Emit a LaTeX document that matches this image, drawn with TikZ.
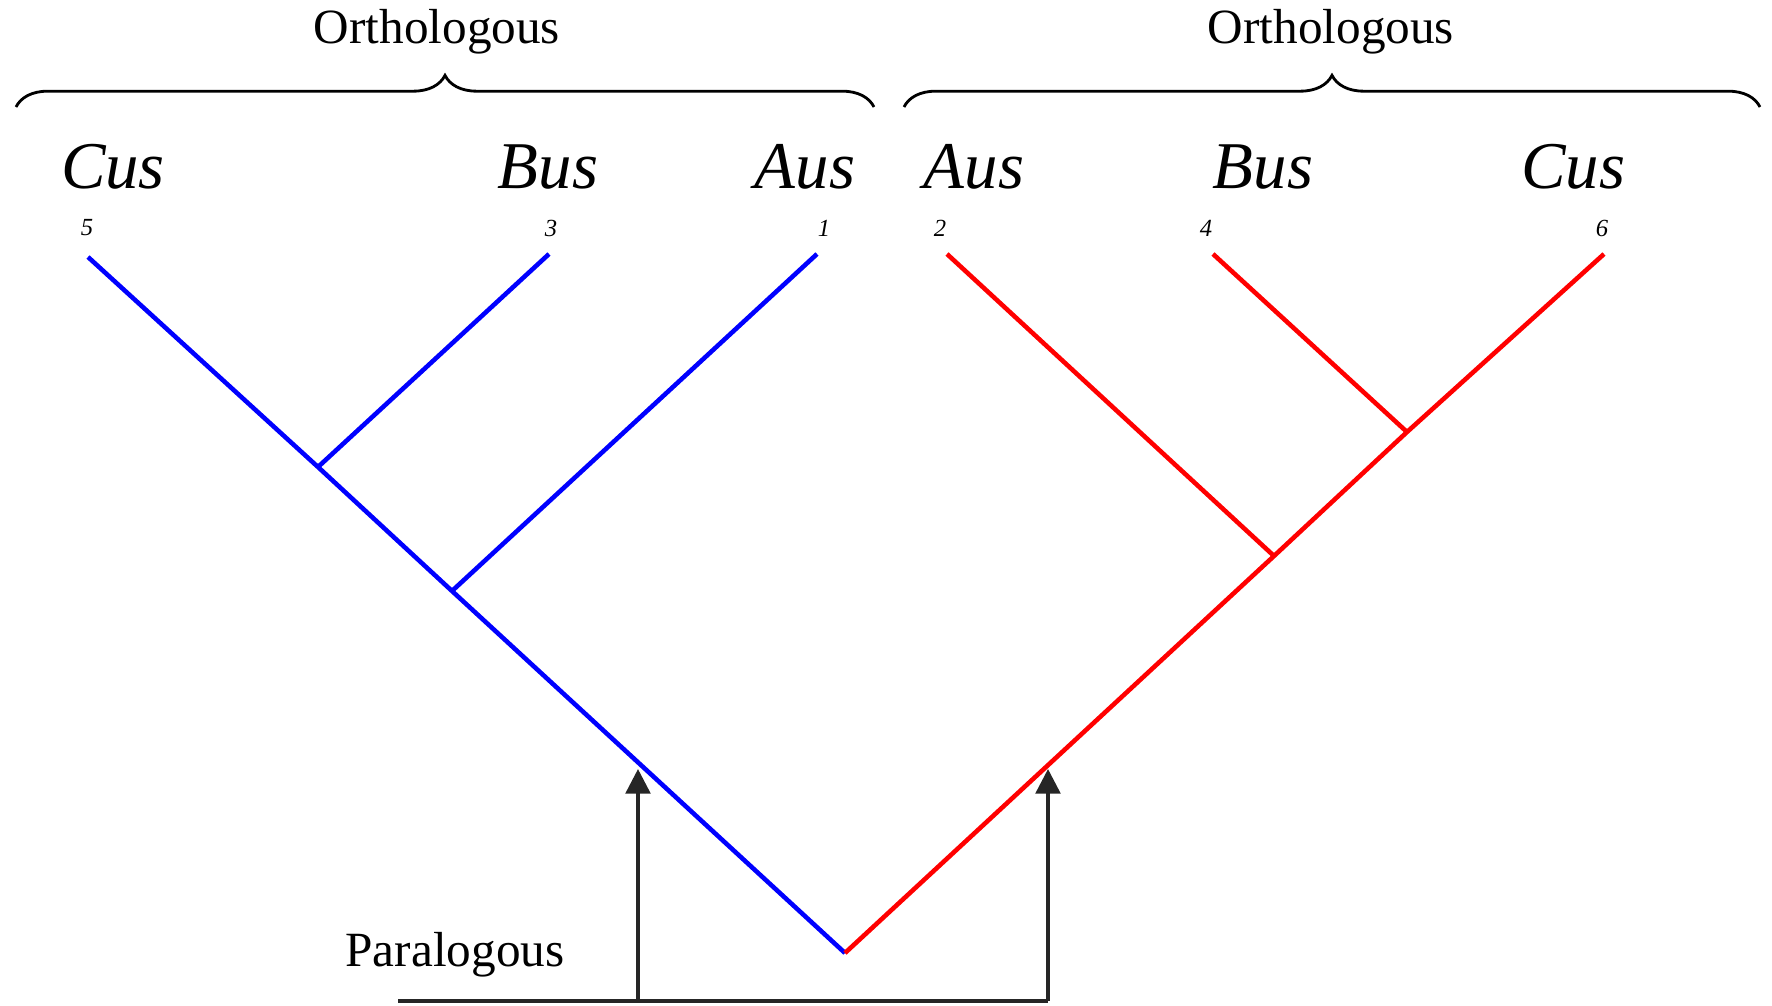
\documentclass[tikz,border=0pt]{standalone}
\usepackage{fontspec}
\setmainfont{Liberation Serif}
\usepackage{tikz}
\usetikzlibrary{arrows.meta,decorations.pathreplacing}

\tikzset{
    species/.style={font=\fontsize{19}{21}\selectfont\itshape, inner sep=0pt},
    leafnum/.style={font=\fontsize{7}{8}\selectfont\itshape, inner sep=0pt},
    group/.style={font=\fontsize{14}{16}\selectfont, inner sep=0pt},
    bluebranch/.style={draw=blue, line width=1.3pt},
    redbranch/.style={draw=red, line width=1.3pt},
    paraline/.style={draw=black!85, line width=1pt},
    paraarrow/.style={paraline, -{Triangle[width=7pt,length=7pt]}},
    bracket/.style={draw=black, line width=0.8pt,
        decorate, decoration={brace, amplitude=9pt}}
}

\begin{document}
\begin{tikzpicture}[x=0.01cm, y=-0.01cm]

\useasboundingbox (0,0) rectangle (1772,1006);

% braces and group labels
\coordinate (bl1) at (16,107);
\coordinate (bl2) at (874,107);
\coordinate (br1) at (904,107);
\coordinate (br2) at (1760,107);
\draw[bracket] (bl1) -- (bl2);
\draw[bracket] (br1) -- (br2);
\node[group] (orthoL) at (437,32) {Orthologous};
\node[group] (orthoR) at (1331,32) {Orthologous};

% species names
\node[species] (cusL) at (113,167) {Cus};
\node[species] (busL) at (548,167) {Bus};
\node[species] (ausL) at (805,167) {Aus};
\node[species] (ausR) at (974,167) {Aus};
\node[species] (busR) at (1263,167) {Bus};
\node[species] (cusR) at (1573,167) {Cus};

% gene numbers
\node[leafnum] (n5) at (87,228) {5};
\node[leafnum] (n3) at (551,228) {3};
\node[leafnum] (n1) at (824,228) {1};
\node[leafnum] (n2) at (940,228) {2};
\node[leafnum] (n4) at (1206,228) {4};
\node[leafnum] (n6) at (1602,228) {6};

% tree points
\coordinate (root) at (845,953);
\coordinate (t5) at (88,257);
\coordinate (t3) at (549,254);
\coordinate (t1) at (817,254);
\coordinate (t2) at (947,254);
\coordinate (t4) at (1213,254);
\coordinate (t6) at (1604,254);
\coordinate (jb1) at (318,467);
\coordinate (jb2) at (452,591);
\coordinate (jr1) at (1407,432);
\coordinate (jr2) at (1274,556);

% blue subtree
\draw[bluebranch] (root) -- (jb2) -- (jb1) -- (t5);
\draw[bluebranch] (jb1) -- (t3);
\draw[bluebranch] (jb2) -- (t1);

% red subtree
\draw[redbranch] (root) -- (jr2) -- (jr1) -- (t6);
\draw[redbranch] (jr1) -- (t4);
\draw[redbranch] (jr2) -- (t2);

% paralogous marker
\coordinate (pbase) at (398,1001);
\coordinate (pa) at (638,1001);
\coordinate (pb) at (1048,1001);
\coordinate (pahead) at (638,769);
\coordinate (pbhead) at (1048,769);
\draw[paraline] (pbase) -- (pb);
\draw[paraarrow] (pa) -- (pahead);
\draw[paraarrow] (pb) -- (pbhead);
\node[group] (para) at (455,955) {Paralogous};

\end{tikzpicture}
\end{document}
